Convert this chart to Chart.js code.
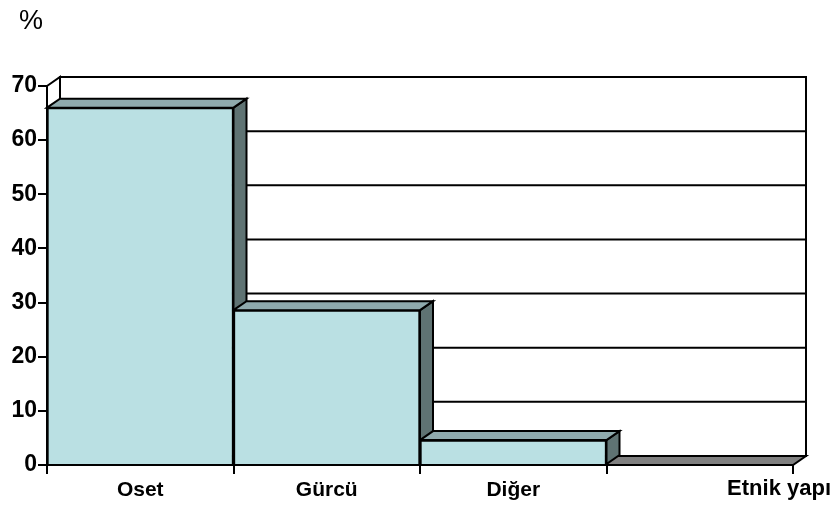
<!DOCTYPE html>
<html>
<head>
<meta charset="utf-8">
<script src="https://cdn.jsdelivr.net/npm/chart.js@4/dist/chart.umd.min.js"></script>
<style>
html,body{margin:0;padding:0;background:#fff;}
#c{display:block;}
</style>
</head>
<body>
<canvas id="c" width="834" height="507"></canvas>
<script>
const categories = ['Oset', 'Gürcü', 'Diğer', ''];
const values = [66, 28.6, 4.6, 0];
const yUnit = '%';
const xTitle = 'Etnik yapı';
const yMin = 0, yMax = 70, yStep = 10;

const FONT = "'Liberation Sans', Arial, sans-serif";
const DX = 13, DY = -9;
const LW = 2;
const FRONT = '#BAE0E3', TOP = '#8FAAAD', SIDE = '#5F7373', FLOOR = '#808080';

function poly(ctx, pts, fill) {
  ctx.beginPath();
  ctx.moveTo(pts[0][0], pts[0][1]);
  for (let i = 1; i < pts.length; i++) ctx.lineTo(pts[i][0], pts[i][1]);
  ctx.closePath();
  if (fill) { ctx.fillStyle = fill; ctx.fill(); }
  ctx.stroke();
}

const threeD = {
  id: 'threeD',
  beforeDatasetsDraw(chart) {
    const ctx = chart.ctx;
    const a = chart.chartArea;
    const ys = chart.scales.y;
    ctx.save();
    ctx.lineWidth = LW;
    ctx.strokeStyle = '#000';
    ctx.lineJoin = 'miter';
    poly(ctx, [[a.left + DX, a.top + DY], [a.right + DX, a.top + DY], [a.right + DX, a.bottom + DY], [a.left + DX, a.bottom + DY]], '#fff');
    poly(ctx, [[a.left, a.top], [a.left + DX, a.top + DY], [a.left + DX, a.bottom + DY], [a.left, a.bottom]], '#fff');
    ys.ticks.forEach(t => {
      if (t.value <= yMin || t.value >= yMax) return;
      const y = ys.getPixelForValue(t.value);
      ctx.beginPath();
      ctx.moveTo(a.left, y);
      ctx.lineTo(a.left + DX, y + DY);
      ctx.lineTo(a.right + DX, y + DY);
      ctx.stroke();
    });
    poly(ctx, [[a.left, a.bottom], [a.left + DX, a.bottom + DY], [a.right + DX, a.bottom + DY], [a.right, a.bottom]], FLOOR);
    const meta = chart.getDatasetMeta(0);
    meta.data.forEach((bar, i) => {
      if (!values[i]) return;
      const p = bar.getProps(['x', 'y', 'base', 'width'], true);
      const l = p.x - p.width / 2, r = p.x + p.width / 2;
      poly(ctx, [[r, p.y], [r + DX, p.y + DY], [r + DX, p.base + DY], [r, p.base]], SIDE);
      poly(ctx, [[l, p.y], [l + DX, p.y + DY], [r + DX, p.y + DY], [r, p.y]], TOP);
    });
    ctx.restore();
  },
  afterDraw(chart) {
    const ctx = chart.ctx;
    ctx.save();
    ctx.fillStyle = '#000';
    ctx.font = '27px ' + FONT;
    ctx.textAlign = 'left';
    ctx.textBaseline = 'middle';
    ctx.fillText(yUnit, 19, 22);
    ctx.font = 'bold 22px ' + FONT;
    ctx.textAlign = 'right';
    ctx.fillText(xTitle, 831, 489);
    ctx.restore();
  }
};

new Chart(document.getElementById('c'), {
  type: 'bar',
  data: {
    labels: categories,
    datasets: [{
      data: values,
      backgroundColor: FRONT,
      borderColor: '#000',
      borderWidth: LW,
      barPercentage: 1,
      categoryPercentage: 1
    }]
  },
  options: {
    responsive: false,
    devicePixelRatio: 1,
    animation: false,
    layout: { padding: { top: 86, right: 41, left: 0, bottom: 0 } },
    plugins: { legend: { display: false }, tooltip: { enabled: false } },
    scales: {
      x: {
        afterFit(s) { s.height = 42; },
        grid: { display: true, drawOnChartArea: false, offset: true, tickLength: 9, color: '#000', lineWidth: LW },
        border: { display: true, color: '#000', width: LW },
        ticks: { color: '#000', font: { family: FONT, size: 21, weight: 'bold' }, padding: 4, maxRotation: 0 }
      },
      y: {
        min: yMin, max: yMax,
        afterFit(s) { s.width = 47; },
        grid: { display: true, drawOnChartArea: false, tickLength: 9, color: '#000', lineWidth: LW },
        border: { display: true, color: '#000', width: LW },
        ticks: { stepSize: yStep, color: '#000', font: { family: FONT, size: 23, weight: 'bold' }, padding: 1 }
      }
    }
  },
  plugins: [threeD]
});
</script>
</body>
</html>
